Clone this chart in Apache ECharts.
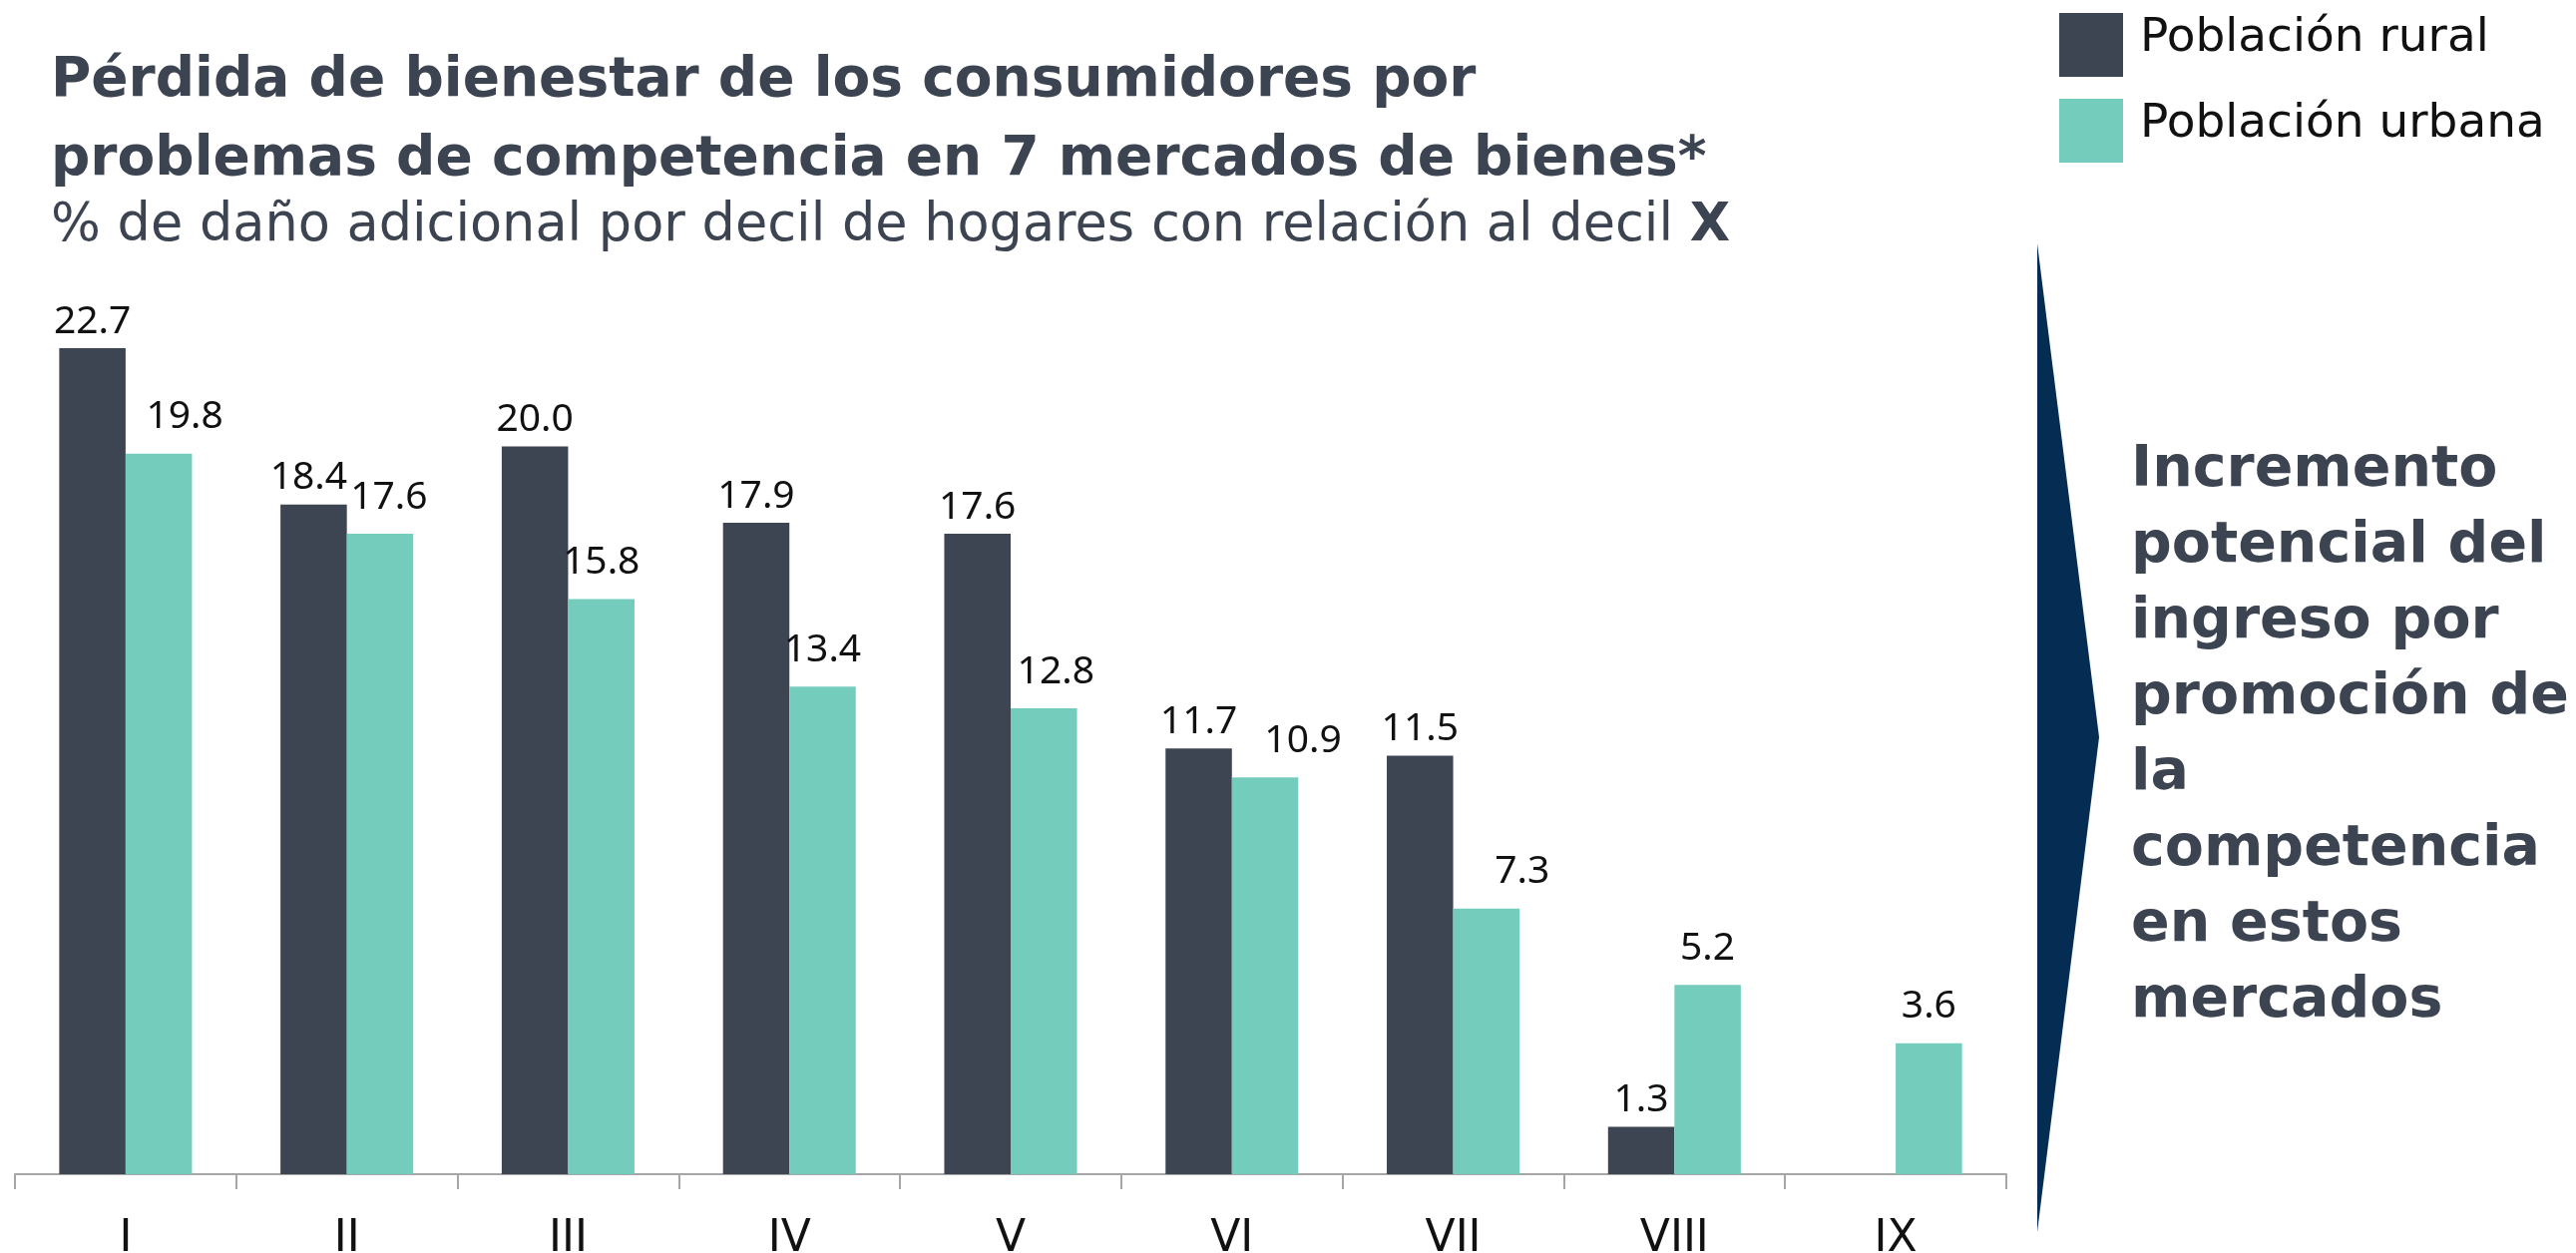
<!DOCTYPE html>
<html>
<head>
<meta charset="utf-8">
<style>
  html, body { margin: 0; padding: 0; background: #fff; }
  #chart { width: 2582px; height: 1256px; }
</style>
<script src="https://cdn.jsdelivr.net/npm/echarts@6/dist/echarts.min.js"></script>
</head>
<body>
<div id="chart"></div>
<script>
// deciles
var categories = ['I', 'II', 'III', 'IV', 'V', 'VI', 'VII', 'VIII', 'IX'];
// % de daño adicional
var rural = [22.7, 18.4, 20.0, 17.9, 17.6, 11.7, 11.5, 1.3, null];
var urbana = [19.8, 17.6, 15.8, 13.4, 12.8, 10.9, 7.3, 5.2, 3.6];
var seriesNames = ['Población rural', 'Población urbana'];
var sideText = ['Incremento', 'potencial del', 'ingreso por', 'promoción de', 'la', 'competencia', 'en estos', 'mercados'];

var colRural = '#3d4553';
var colUrbana = '#74cdbc';
var textCol = '#3d4451';

// labels that sit a bit off-centre in the original
var ruralLabelShift = {1: -5};
var urbanLabelShift = {0: 26, 1: 9, 4: 12, 5: 38, 6: 36};

function withShift(values, shift) {
  return values.map(function (v, i) {
    var d = {value: v};
    if (shift[i]) d.label = {offset: [shift[i], 0]};
    return d;
  });
}

var myChart = echarts.init(document.getElementById('chart'));
var labelStyle = {
  show: true,
  position: 'top',
  fontFamily: 'Noto Sans',
  fontSize: 39,
  color: '#111',
  formatter: function (p) { return p.value == null ? '' : Number(p.value).toFixed(1); }
};

var option = {
  animation: false,
  backgroundColor: '#fff',
  title: {
    left: 46,
    top: 37,
    text: 'Pérdida de bienestar de los consumidores por\nproblemas de competencia en 7 mercados de bienes*',
    textStyle: {fontFamily: 'DejaVu Sans', fontWeight: 'bold', fontSize: 55, lineHeight: 79, color: textCol},
    subtext: '{n|% de daño adicional por decil de hogares con relación al decil }{b|X}',
    subtextStyle: {
      rich: {
        n: {fontFamily: 'DejaVu Sans', fontSize: 52.5, lineHeight: 52, color: textCol},
        b: {fontFamily: 'DejaVu Sans', fontWeight: 'bold', fontSize: 52.5, lineHeight: 52, color: textCol}
      }
    },
    itemGap: 1
  },
  legend: {
    orient: 'vertical',
    left: 2064,
    top: 13,
    padding: 0,
    itemWidth: 64,
    itemHeight: 64,
    itemGap: 22,
    icon: 'rect',
    data: seriesNames,
    formatter: '{t|{name}}',
    textStyle: {
      padding: [0, 0, 0, 12],
      rich: {
        // text sits higher than the middle of the swatch
        t: {fontFamily: 'DejaVu Sans', fontSize: 47, lineHeight: 52, color: '#111', padding: [0, 0, 13, 0]}
      }
    }
  },
  grid: {left: 15, right: 571, top: 265, bottom: 79, outerBoundsMode: 'none'},
  xAxis: {
    type: 'category',
    data: categories,
    axisLine: {lineStyle: {color: '#a6a6a6', width: 2}},
    axisTick: {show: true, length: 15, lineStyle: {color: '#a6a6a6', width: 2}},
    axisLabel: {margin: 44, fontFamily: 'DejaVu Sans', fontSize: 44, color: '#111'}
  },
  yAxis: {type: 'value', min: 0, max: 25, show: false, splitLine: {show: false}},
  series: [
    {
      name: seriesNames[0],
      type: 'bar',
      data: withShift(rural, ruralLabelShift),
      barGap: '0%',
      barCategoryGap: '40%',
      itemStyle: {color: colRural},
      label: Object.assign({distance: 7}, labelStyle)
    },
    {
      name: seriesNames[1],
      type: 'bar',
      data: withShift(urbana, urbanLabelShift),
      barGap: '0%',
      barCategoryGap: '40%',
      itemStyle: {color: colUrbana},
      label: Object.assign({distance: 17}, labelStyle)
    }
  ],
  graphic: [
    {
      type: 'polygon',
      shape: {points: [[2042, 244], [2104, 739], [2042, 1235]]},
      style: {fill: '#052c52'}
    },
    {
      type: 'text',
      x: 2136,
      y: 434,
      style: {
        text: sideText.join('\n'),
        font: 'bold 57px "DejaVu Sans"',
        lineHeight: 76,
        fill: textCol,
        verticalAlign: 'top'
      }
    }
  ]
};
myChart.setOption(option);
window.addEventListener('resize', function () { myChart.resize(); });
</script>
</body>
</html>
